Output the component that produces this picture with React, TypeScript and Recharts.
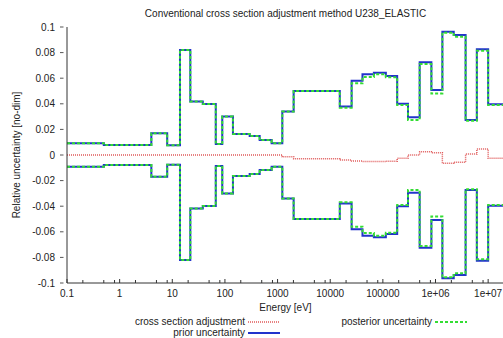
import React from 'react';
import { LineChart, Line, XAxis, YAxis } from 'recharts';

// group boundaries [eV] and per-group values
const edges = [
  0.1, 0.5, 4, 8, 14, 22, 38, 67, 89, 142, 295, 457, 770, 1230, 2020, 15200, 25500, 41000,
  67500, 114000, 187000, 300000, 500000, 835000, 1.35e6, 2.22e6, 3.73e6, 6.1e6, 1e7, 2e7,
];
const prior = [
  0.0091, 0.0078, 0.017, 0.0076, 0.082, 0.0417, 0.0398, 0.0086, 0.030, 0.0164, 0.0148, 0.0117,
  0.0092, 0.0339, 0.050, 0.0378, 0.058, 0.063, 0.0643, 0.0617, 0.040, 0.0294, 0.0724, 0.0508,
  0.0963, 0.0937, 0.0273, 0.0826, 0.0396,
];
const posterior = [
  0.0091, 0.0078, 0.017, 0.0076, 0.082, 0.0417, 0.0398, 0.0086, 0.030, 0.0164, 0.0148, 0.0117,
  0.0092, 0.0339, 0.050, 0.037, 0.056, 0.061, 0.063, 0.0607, 0.039, 0.0273, 0.071, 0.048,
  0.0956, 0.0924, 0.0268, 0.0815, 0.039,
];
const adjustment = [
  0, 0, 0, 0, 0, 0, 0, 0, 0, 0, 0, 0, 0, -0.0013, -0.003, -0.004, -0.0047, -0.005, -0.005,
  -0.0048, -0.0026, 0, 0.0026, 0.0018, -0.0065, -0.0057, 0.0008, 0.0047, -0.0026,
];

const majorTicks = [0.1, 1, 10, 100, 1000, 10000, 100000, 1e6, 1e7];
const majorLabels = ['0.1', '1', '10', '100', '1000', '10000', '100000', '1e+06', '1e+07'];
const minorSteps = [2, 5, 8];
const yTicks = [-0.1, -0.08, -0.06, -0.04, -0.02, 0, 0.02, 0.04, 0.06, 0.08, 0.1];

const xTicks: number[] = [];
majorTicks.forEach((m) => {
  xTicks.push(m);
  minorSteps.forEach((s) => {
    if (m * s <= 2e7) xTicks.push(m * s);
  });
});

const data = edges.map((e, i) => {
  const k = Math.min(i, prior.length - 1);
  return {
    e,
    adj: adjustment[k],
    prior: prior[k],
    nprior: -prior[k],
    post: posterior[k],
    npost: -posterior[k],
  };
});

const FONT = '"Liberation Sans", Arial, sans-serif';
const TXT = '#222';
const RED = '#e05a5a';
const BLUE = '#2233cc';
const GREEN = '#33dd33';

const isMajor = (v: number) => majorTicks.some((m) => Math.abs(v - m) / m < 1e-6);

const BottomTick = (props: any) => {
  const { x, y, payload } = props;
  const v = payload.value;
  const major = isMajor(v);
  const idx = majorTicks.findIndex((m) => Math.abs(v - m) / m < 1e-6);
  return (
    <g>
      <line x1={x} x2={x} y1={y} y2={y - (major ? 4 : 3)} stroke="#333" strokeWidth={1} />
      {major && (
        <text x={x} y={y + 14} textAnchor="middle" fontSize={10} fill={TXT} fontFamily={FONT}>
          {majorLabels[idx]}
        </text>
      )}
    </g>
  );
};

const TopTick = (props: any) => {
  const { x, y, payload } = props;
  const major = isMajor(payload.value);
  return <line x1={x} x2={x} y1={y} y2={y + (major ? 4 : 3)} stroke="#333" strokeWidth={1} />;
};

const fmtY = (v: number) => {
  const r = Math.round(v * 100) / 100;
  if (r === 0) return '0';
  return String(r);
};

const LeftTick = (props: any) => {
  const { x, y, payload } = props;
  return (
    <g>
      <line x1={x - 7} x2={x - 3.5} y1={y} y2={y} stroke="#555" strokeWidth={1} />
      <text x={x - 12} y={y + 3.5} textAnchor="end" fontSize={10} fill={TXT} fontFamily={FONT}>
        {fmtY(payload.value)}
      </text>
    </g>
  );
};

const RightTick = (props: any) => {
  const { x, y } = props;
  return <line x1={x} x2={x - 4} y1={y} y2={y} stroke="#333" strokeWidth={1} />;
};

const LegendRow = ({ label, color, dash, width, top, left, textRight }: any) => (
  <div style={{ position: 'absolute', top, left, height: 11, display: 'flex', alignItems: 'center' }}>
    <span style={{ width: textRight, textAlign: 'right', fontSize: 10, lineHeight: '11px', color: TXT, fontFamily: FONT, whiteSpace: 'nowrap' }}>
      {label}
    </span>
    <svg width={36} height={6} style={{ marginLeft: 3 }}>
      <line x1={0} x2={32} y1={3} y2={3} stroke={color} strokeWidth={width} strokeDasharray={dash} />
    </svg>
  </div>
);

export default function App() {
  return (
    <div style={{ position: 'absolute', left: 0, top: 0, width: 503, height: 338, overflow: 'hidden', background: '#fff' }}>
      <div
        style={{
          position: 'absolute',
          top: 8,
          left: 67,
          width: 437,
          textAlign: 'center',
          fontSize: 10,
          color: TXT,
          fontFamily: FONT,
        }}
      >
        Conventional cross section adjustment method U238_ELASTIC
      </div>
      <LineChart width={506} height={338} data={data} margin={{ top: 27, right: 2, bottom: 0, left: 0 }}>
        <XAxis
          dataKey="e"
          type="number"
          scale="log"
          domain={[0.1, 2e7]}
          allowDataOverflow
          ticks={xTicks}
          interval={0}
          tick={<BottomTick />}
          tickLine={false}
          tickSize={0}
          tickMargin={0}
          height={55}
          stroke="#333"
          label={{ value: 'Energy [eV]', position: 'insideTop', offset: 21, fontSize: 10, fill: TXT, fontFamily: FONT }}
        />
        <XAxis
          xAxisId="top"
          dataKey="e"
          type="number"
          scale="log"
          orientation="top"
          domain={[0.1, 2e7]}
          allowDataOverflow
          ticks={xTicks}
          interval={0}
          tick={<TopTick />}
          tickLine={false}
          tickSize={0}
          tickMargin={0}
          height={0}
          stroke="#333"
        />
        <YAxis
          type="number"
          domain={[-0.1, 0.1]}
          ticks={yTicks}
          interval={0}
          tick={<LeftTick />}
          tickLine={false}
          tickSize={0}
          tickMargin={0}
          width={67}
          stroke="#333"
          label={{
            value: 'Relative uncertainty [no-dim]',
            angle: -90,
            position: 'insideLeft',
            offset: 16,
            style: { textAnchor: 'middle' },
            fontSize: 10,
            fill: TXT,
            fontFamily: FONT,
          }}
        />
        <YAxis
          yAxisId="right"
          orientation="right"
          type="number"
          domain={[-0.1, 0.1]}
          ticks={yTicks}
          interval={0}
          tick={<RightTick />}
          tickLine={false}
          tickSize={0}
          width={0}
          stroke="#333"
        />
        <Line dataKey="adj" type="stepAfter" stroke={RED} strokeWidth={1.5} strokeDasharray="1 1" dot={false} isAnimationActive={false} />
        <Line dataKey="prior" type="stepAfter" stroke={BLUE} strokeWidth={2} dot={false} isAnimationActive={false} />
        <Line dataKey="nprior" type="stepAfter" stroke={BLUE} strokeWidth={2} dot={false} isAnimationActive={false} />
        <Line dataKey="post" type="stepAfter" stroke={GREEN} strokeWidth={2} strokeDasharray="3 2" dot={false} isAnimationActive={false} />
        <Line dataKey="npost" type="stepAfter" stroke={GREEN} strokeWidth={2} strokeDasharray="3 2" dot={false} isAnimationActive={false} />
      </LineChart>
      <LegendRow label="cross section adjustment" color={RED} dash="1 1" width={1.5} top={316} left={100} textRight={145} />
      <LegendRow label="prior uncertainty" color={BLUE} width={2} top={327} left={100} textRight={145} />
      <LegendRow label="posterior uncertainty" color={GREEN} dash="3 2" width={2} top={316} left={300} textRight={132} />
    </div>
  );
}
